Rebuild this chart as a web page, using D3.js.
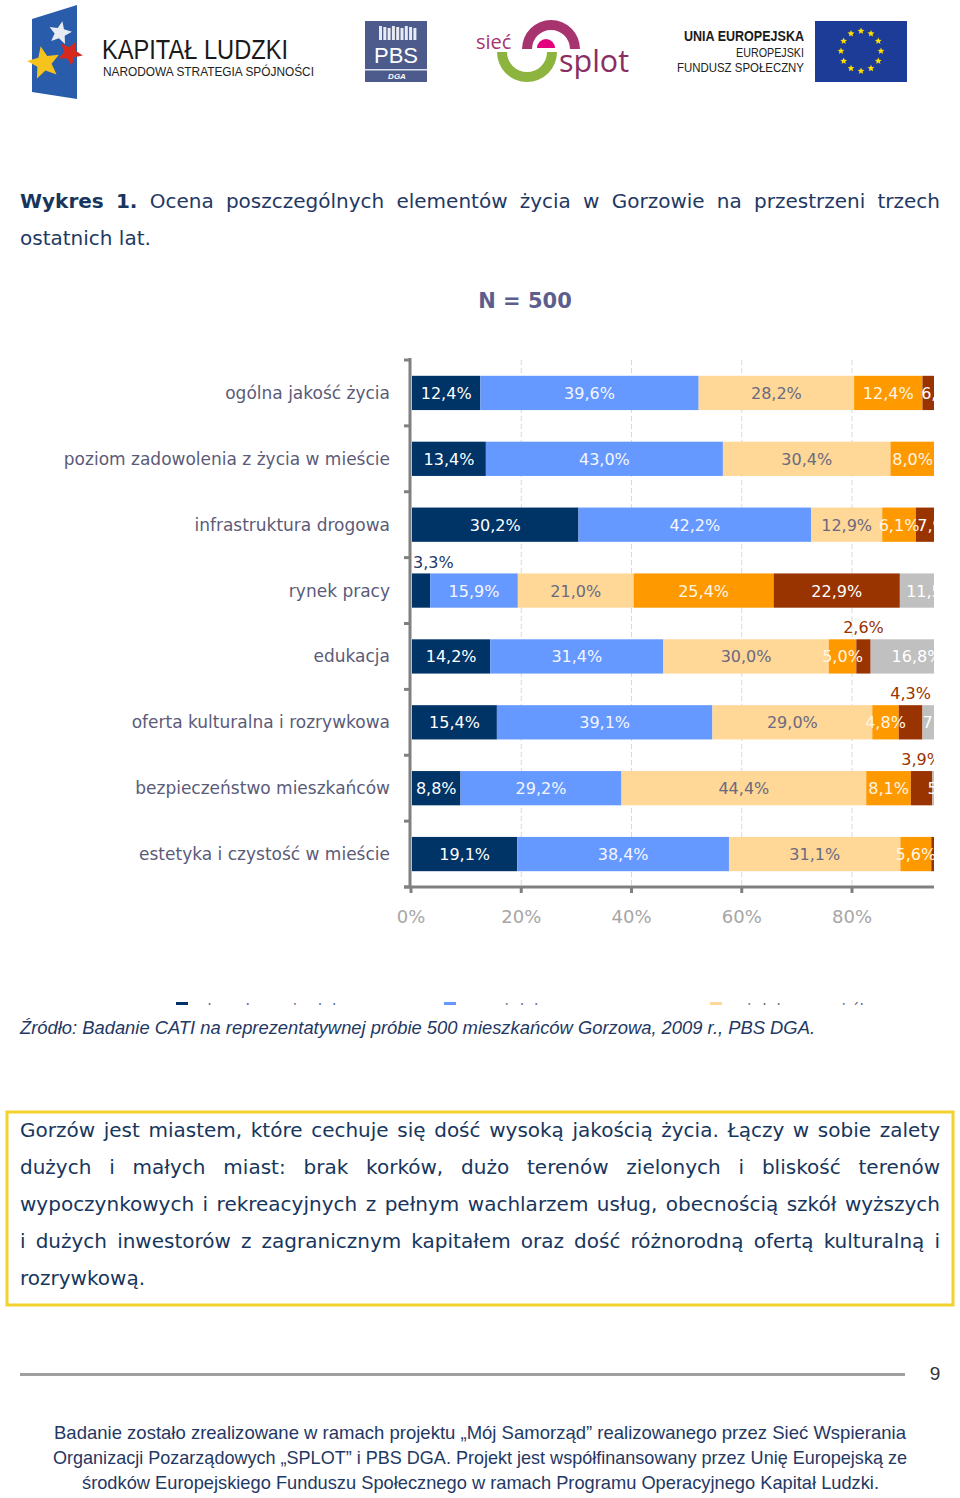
<!DOCTYPE html>
<html><head><meta charset="utf-8">
<script src="https://cdn.jsdelivr.net/npm/d3@7"></script>
<style>
html,body{margin:0;padding:0;background:#fff;}
svg{display:block;}
</style></head>
<body>
<svg id="page" width="960" height="1498"></svg>
<script>
// ---------- DATA ----------
const categories = [
  "ogólna jakość życia",
  "poziom zadowolenia z życia w mieście",
  "infrastruktura drogowa",
  "rynek pracy",
  "edukacja",
  "oferta kulturalna i rozrywkowa",
  "bezpieczeństwo mieszkańców",
  "estetyka i czystość w mieście"
];
const seriesNames = ["zdecydowanie dobrze","raczej dobrze","ani dobrze, ani źle","raczej źle","zdecydowanie źle","trudno powiedzieć"];
const s1 = [12.4, 13.4, 30.2, 3.3, 14.2, 15.4, 8.8, 19.1];
const s2 = [39.6, 43.0, 42.2, 15.9, 31.4, 39.1, 29.2, 38.4];
const s3 = [28.2, 30.4, 12.9, 21.0, 30.0, 29.0, 44.4, 31.1];
const s4 = [12.4, 8.0, 6.1, 25.4, 5.0, 4.8, 8.1, 5.6];
const s5 = [6.9, 2.4, 7.9, 22.9, 2.6, 4.3, 3.9, 3.6];
const s6 = [0.5, 2.8, 0.7, 11.5, 16.8, 7.4, 5.6, 2.2];
const xTicks = [0, 20, 40, 60, 80];
const tickLabels = ["0%","20%","40%","60%","80%"];

const seriesValues = [s1, s2, s3, s4, s5, s6];
const colors = ["#003366", "#6699ff", "#ffd797", "#ff9900", "#993300", "#c0c0c0"];
const labelColors = ["#ffffff", "#f4f6ff", "#6a6a80", "#fff6e6", "#ffffff", "#ffffff"];
const NAVY = "#1f3864";

const svg = d3.select("#page");
const FONT = "'DejaVu Sans', Verdana, sans-serif";
const CAL = "'Liberation Sans Narrow', 'Liberation Sans', sans-serif";

// ---------- LOGOS ----------
const logos = svg.append("g");
// Kapitał Ludzki panel
logos.append("path").attr("d","M32,19 L77,5 L77,99 L32,92 Z").attr("fill","#2a5cac");
function star(cx, cy, r, rot){
  const pts=[];
  for(let i=0;i<10;i++){const rr=i%2?r*0.45:r;const a=rot+i*Math.PI/5;pts.push([cx+rr*Math.sin(a),cy-rr*Math.cos(a)]);}
  return "M"+pts.map(p=>p.join(",")).join("L")+"Z";
}
logos.append("path").attr("d",star(60,33,12,0.2)).attr("fill","#e8ecf2");
logos.append("path").attr("d",star(70,53,13,0.5)).attr("fill","#d42a1e");
logos.append("path").attr("d",star(44,63,17,-0.2)).attr("fill","#f6c21c");
logos.append("text").attr("x",102).attr("y",59).attr("font-family",CAL).attr("font-size",27)
  .attr("textLength",186).attr("lengthAdjust","spacingAndGlyphs").attr("fill","#1a1a1a").text("KAPITAŁ LUDZKI");
logos.append("text").attr("x",103).attr("y",76).attr("font-family",CAL).attr("font-size",13)
  .attr("textLength",211).attr("lengthAdjust","spacingAndGlyphs").attr("fill","#222").text("NARODOWA STRATEGIA SPÓJNOŚCI");
// PBS
logos.append("rect").attr("x",365).attr("y",21).attr("width",62).attr("height",61).attr("fill","#4c5b8b");
logos.append("rect").attr("x",365).attr("y",69).attr("width",62).attr("height",1.5).attr("fill","#dfe3ee");
for(let i=0;i<9;i++){
  logos.append("rect").attr("x",379+i*4.3).attr("y",26+(i%3)).attr("width",3).attr("height",14-(i%3)).attr("fill","#e8ebf3");
}
logos.append("text").attr("x",396).attr("y",63).attr("text-anchor","middle").attr("font-family","'Liberation Sans', Arial, sans-serif")
  .attr("font-size",22).attr("fill","#fff").text("PBS");
logos.append("text").attr("x",397).attr("y",79).attr("text-anchor","middle").attr("font-family","'Liberation Sans', Arial, sans-serif")
  .attr("font-size",8).attr("font-style","italic").attr("font-weight","bold").attr("fill","#fff").text("DGA");
// siec splot
const arcG = d3.arc();
logos.append("path").attr("transform","translate(551,49)")
  .attr("d",arcG({innerRadius:19,outerRadius:29,startAngle:-Math.PI/2,endAngle:Math.PI/2})).attr("fill","#a8346f");
logos.append("path").attr("transform","translate(546,48)")
  .attr("d",arcG({innerRadius:0,outerRadius:9,startAngle:-Math.PI/2,endAngle:Math.PI/2})).attr("fill","#e5007d");
logos.append("path").attr("transform","translate(527,52)")
  .attr("d",arcG({innerRadius:20,outerRadius:30,startAngle:Math.PI/2,endAngle:3*Math.PI/2})).attr("fill","#8db43e");
logos.append("text").attr("x",476).attr("y",49).attr("font-family","'Open Sans', sans-serif").attr("font-size",20).attr("fill","#a8346f").text("sieć");
logos.append("text").attr("x",559).attr("y",72).attr("font-family","'Open Sans', sans-serif").attr("font-size",31).attr("fill","#8a2d62")
  .attr("textLength",70).attr("lengthAdjust","spacingAndGlyphs").text("splot");
// UE
logos.append("text").attr("x",804).attr("y",41).attr("text-anchor","end").attr("font-family",CAL).attr("font-weight","bold").attr("font-size",14)
  .attr("textLength",120).attr("lengthAdjust","spacingAndGlyphs").attr("fill","#1a1a1a").text("UNIA EUROPEJSKA");
logos.append("text").attr("x",804).attr("y",57).attr("text-anchor","end").attr("font-family",CAL).attr("font-size",13)
  .attr("textLength",68).attr("lengthAdjust","spacingAndGlyphs").attr("fill","#222").text("EUROPEJSKI");
logos.append("text").attr("x",804).attr("y",72).attr("text-anchor","end").attr("font-family",CAL).attr("font-size",13)
  .attr("textLength",127).attr("lengthAdjust","spacingAndGlyphs").attr("fill","#222").text("FUNDUSZ SPOŁECZNY");
logos.append("rect").attr("x",815).attr("y",21).attr("width",92).attr("height",61).attr("fill","#1c3c97");
for(let i=0;i<12;i++){
  const a=i*Math.PI/6;
  logos.append("path").attr("d",star(861+20*Math.sin(a),51-20*Math.cos(a),3.6,0)).attr("fill","#ffde00");
}

// ---------- TEXT HELPERS ----------
function justify(words, x0, x1, y, size, fill, doJustify){
  const g = svg.append("g");
  const nodes = words.map(w => g.append("text").attr("y",y).attr("font-family",FONT).attr("font-size",size)
      .attr("font-weight",w.bold?"bold":"normal").attr("fill",w.fill||fill).text(w.t));
  const widths = nodes.map(n => n.node().getComputedTextLength());
  const total = d3.sum(widths);
  let gap = doJustify && words.length>1 ? (x1-x0-total)/(words.length-1) : size*0.318;
  let scale = 1;
  if (gap < size*0.2 && doJustify){ gap = size*0.2; scale = (x1-x0-gap*(words.length-1))/total; }
  let x = x0;
  nodes.forEach((n,i)=>{ n.attr("x",x); if(scale!==1){n.attr("textLength",widths[i]*scale).attr("lengthAdjust","spacingAndGlyphs");} x += widths[i]*scale+gap; });
}
const W = s => s.split(" ").map(t=>({t}));

// ---------- TITLE ----------
justify([{t:"Wykres",bold:true,fill:"#17365d"},{t:"1.",bold:true,fill:"#17365d"}].concat(W("Ocena poszczególnych elementów życia w Gorzowie na przestrzeni trzech")),
  20, 940, 208, 20, NAVY, true);
justify(W("ostatnich lat."), 20, 940, 245, 20, NAVY, false);
svg.append("text").attr("x",525).attr("y",308).attr("text-anchor","middle").attr("font-family",FONT)
  .attr("font-weight","bold").attr("font-size",21).attr("fill","#5e5e8e").text("N = 500");

// ---------- CHART ----------
const x = d3.scaleLinear().domain([0,100]).range([411, 962.25]);
const y = d3.scaleBand().domain(categories).range([360, 887]).paddingInner(0.48).paddingOuter(0.24);
const band = d3.scaleBand().domain(categories).range([360, 887]);

const defs = svg.append("defs");
defs.append("clipPath").attr("id","plotclip").append("rect").attr("x",405).attr("y",330).attr("width",529).attr("height",570);
defs.append("clipPath").attr("id","legclip").append("rect").attr("x",0).attr("y",990).attr("width",960).attr("height",15);

const chart = svg.append("g");
// gridlines
chart.append("g").selectAll("line").data(xTicks.slice(1)).join("line")
  .attr("x1",d=>x(d)).attr("x2",d=>x(d)).attr("y1",360).attr("y2",887)
  .attr("stroke","#d9d9d9").attr("stroke-width",1).attr("stroke-dasharray","5,3");

// stacked data
const rows = categories.map((c,i)=>{ const o={cat:c}; seriesNames.forEach((s,k)=>o[s]=seriesValues[k][i]); return o; });
const stacked = d3.stack().keys(seriesNames)(rows);

const plot = chart.append("g").attr("clip-path","url(#plotclip)");
stacked.forEach((layer,k)=>{
  plot.append("g").selectAll("rect").data(layer).join("rect")
    .attr("x",d=>x(d[0])+1).attr("y",d=>y(d.data.cat))
    .attr("width",d=>Math.max(0,x(d[1])-x(d[0])))
    .attr("height",y.bandwidth()).attr("fill",colors[k]);
});
const fmt = v => v.toFixed(1).replace(".",",")+"%";
stacked.forEach((layer,k)=>{
  layer.forEach(d=>{
    const v = d[1]-d[0];
    const cx = x((d[0]+d[1])/2)+1;
    const cy = y(d.data.cat)+y.bandwidth()/2;
    if (v < 4.5){
      if (cx > 934) return;
      const t = plot.append("text").attr("y",cy-23).attr("font-family",FONT).attr("font-size",16)
        .attr("fill",k===0?NAVY:"#993300").text(fmt(v));
      const w = t.node().getComputedTextLength();
      t.attr("x",Math.max(413, cx-w/2));
    } else {
      plot.append("text").attr("x",cx).attr("y",cy+6).attr("text-anchor","middle").attr("font-family",FONT)
        .attr("font-size",16).attr("fill",labelColors[k]).text(fmt(v));
    }
  });
});

// axes
const yAxis = chart.append("g");
yAxis.append("line").attr("x1",410).attr("x2",410).attr("y1",358).attr("y2",888).attr("stroke","#808080").attr("stroke-width",3);
yAxis.selectAll("line.tk").data(categories.concat(["end"])).join("line").attr("class","tk")
  .attr("x1",404).attr("x2",410)
  .attr("y1",d=>d==="end"?887:band(d)).attr("y2",d=>d==="end"?887:band(d))
  .attr("stroke","#808080").attr("stroke-width",3);
yAxis.selectAll("text").data(categories).join("text")
  .attr("x",390).attr("y",d=>band(d)+band.bandwidth()/2+6).attr("text-anchor","end")
  .attr("font-family",FONT).attr("font-size",17).attr("fill","#5b5b78").text(d=>d);

const xAxis = chart.append("g");
xAxis.append("line").attr("x1",404).attr("x2",934).attr("y1",887).attr("y2",887).attr("stroke","#808080").attr("stroke-width",3);
xAxis.selectAll("line.tk").data(xTicks).join("line").attr("class","tk")
  .attr("x1",d=>x(d)).attr("x2",d=>x(d)).attr("y1",887).attr("y2",893).attr("stroke","#808080").attr("stroke-width",3);
xAxis.selectAll("text").data(xTicks).join("text")
  .attr("x",d=>x(d)).attr("y",923).attr("text-anchor","middle").attr("font-family",FONT)
  .attr("font-size",18).attr("fill","#a6a6a6").text((d,i)=>tickLabels[i]);

// legend (cut off at bottom of chart object)
const leg = svg.append("g").attr("clip-path","url(#legclip)");
const legX = [176, 444, 710];
legX.forEach((lx,i)=>{
  leg.append("rect").attr("x",lx).attr("y",1002).attr("width",12).attr("height",12).attr("fill",colors[i]);
  leg.append("text").attr("x",lx+17).attr("y",1015).attr("font-family",FONT).attr("font-size",16).attr("fill","#6a6a80").text(seriesNames[i]);
});

// ---------- SOURCE ----------
svg.append("text").attr("x",20).attr("y",1034).attr("font-family",CAL).attr("font-style","italic").attr("font-size",18)
  .attr("textLength",795).attr("lengthAdjust","spacingAndGlyphs").attr("fill",NAVY)
  .text("Źródło: Badanie CATI na reprezentatywnej próbie 500 mieszkańców Gorzowa, 2009 r., PBS DGA.");

// ---------- BOX ----------
svg.append("rect").attr("x",7).attr("y",1112).attr("width",946).attr("height",193).attr("fill","none").attr("stroke","#f3d22c").attr("stroke-width",3);
const boxLines = [
  "Gorzów jest miastem, które cechuje się dość wysoką jakością życia. Łączy w sobie zalety",
  "dużych i małych miast: brak korków, dużo terenów zielonych i bliskość terenów",
  "wypoczynkowych i rekreacyjnych z pełnym wachlarzem usług, obecnością szkół wyższych",
  "i dużych inwestorów z zagranicznym kapitałem oraz dość różnorodną ofertą kulturalną i",
  "rozrywkową."
];
boxLines.forEach((l,i)=> justify(W(l), 20, 940, 1137+i*37, 20, "#17365d", i<4));

// ---------- FOOTER ----------
svg.append("rect").attr("x",20).attr("y",1373).attr("width",885).attr("height",3).attr("fill","#a0a0a0");
svg.append("text").attr("x",935).attr("y",1380).attr("text-anchor","middle").attr("font-family",CAL).attr("font-size",19).attr("fill","#333").text("9");
const footer = [
  ["Badanie zostało zrealizowane w ramach projektu „Mój Samorząd” realizowanego przez Sieć Wspierania", 54, 852],
  ["Organizacji Pozarządowych „SPLOT” i PBS DGA. Projekt jest współfinansowany przez Unię Europejską ze", 53, 854],
  ["środków Europejskiego Funduszu Społecznego w ramach Programu Operacyjnego Kapitał Ludzki.", 82, 797]
];
footer.forEach((f,i)=> svg.append("text").attr("x",f[1]).attr("y",1439+i*25).attr("font-family",CAL).attr("font-size",19)
  .attr("textLength",f[2]).attr("lengthAdjust","spacingAndGlyphs").attr("fill","#1f3864").text(f[0]));
</script>
</body></html>
